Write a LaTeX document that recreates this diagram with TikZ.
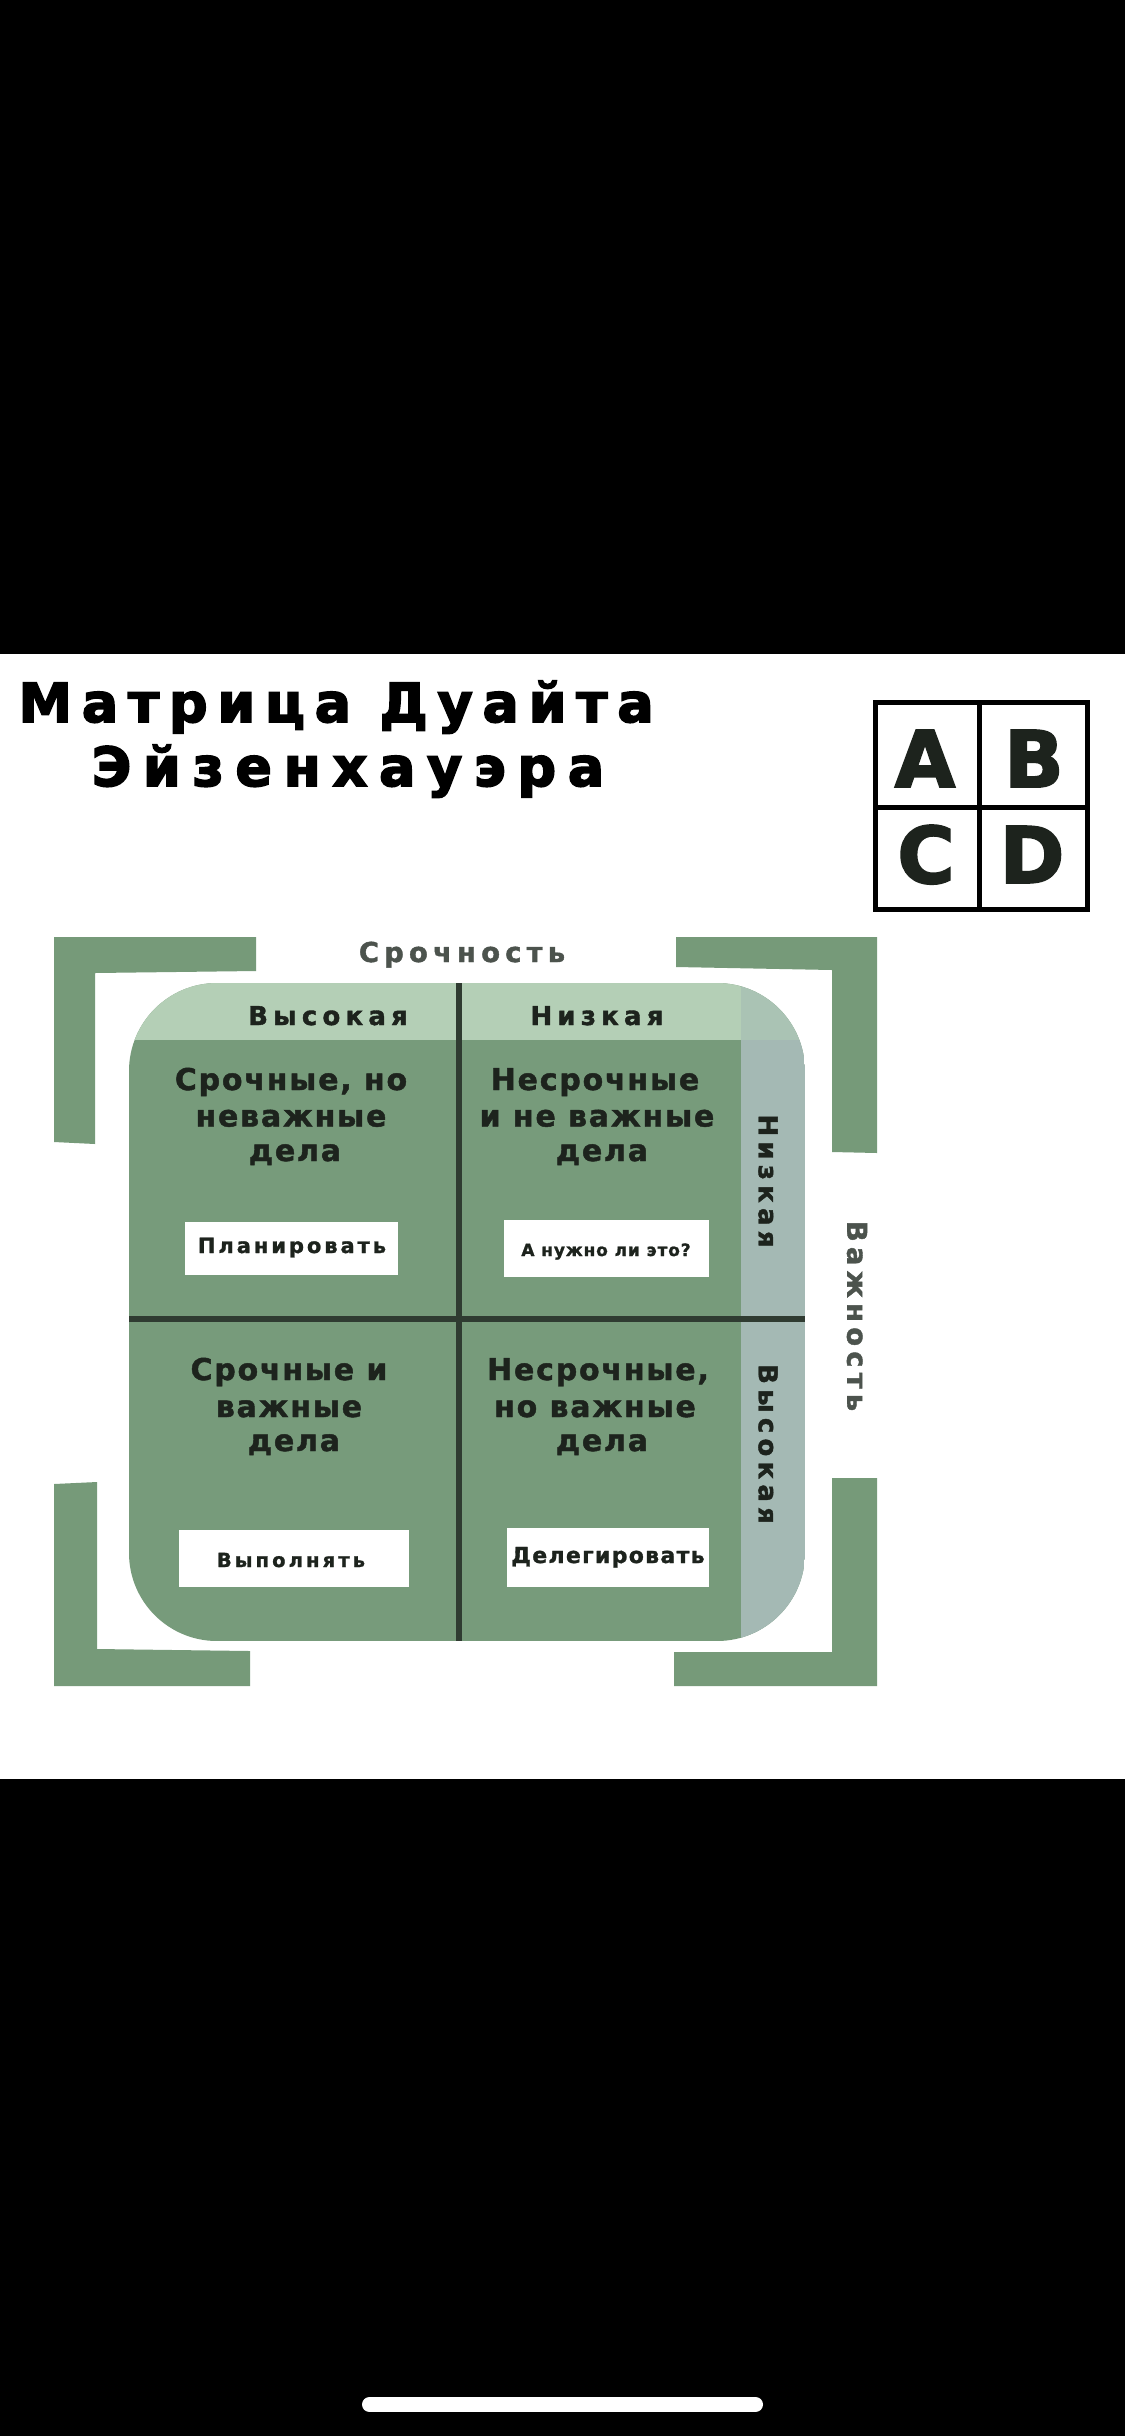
\documentclass[tikz,border=0pt]{standalone}
\usepackage{fontspec}
\setmainfont{DejaVu Sans}
\newcommand\lsp[2]{\addfontfeatures{LetterSpace=#1,FakeBold=#2}}
\definecolor{bodyg}{HTML}{779B7B}
\definecolor{headg}{HTML}{B4CFB6}
\definecolor{colg}{HTML}{A4B9B4}
\definecolor{colh}{HTML}{AAC3B4}
\definecolor{divc}{HTML}{2F3B31}
\definecolor{brk}{HTML}{769A79}
\definecolor{txtd}{HTML}{1D231D}
\definecolor{axg}{HTML}{4C534D}
\tikzset{
  ttl/.style={text=black, inner sep=0pt, anchor=base},
  abcd/.style={font={\fontsize{39}{44}\selectfont\bfseries\lsp{0}{2.5}}, text=txtd, inner sep=0pt, anchor=base},
  qt/.style={font={\fontsize{15}{18}\selectfont\bfseries\lsp{6}{1.5}}, text=txtd, inner sep=0pt, anchor=base},
  hd/.style={font={\fontsize{13}{16}\selectfont\bfseries\lsp{20}{1.5}}, text=txtd, inner sep=0pt, anchor=base},
  ax/.style={font={\fontsize{13.7}{16}\selectfont\bfseries\lsp{19}{1.5}}, text=axg, inner sep=0pt, anchor=base},
  wbox/.style={fill=white, draw=none, inner sep=0pt},
  btxt/.style={text=txtd, inner sep=0pt, anchor=base},
}
\begin{document}
\begin{tikzpicture}[x=0.5pt,y=-0.5pt]
\useasboundingbox (0,0) rectangle (1125,2436);
% screen background
\fill[black] (0,0) rectangle (1125,2436);
\fill[white] (0,654) rectangle (1125,1779);
\draw[white, line width=7.5pt, line cap=round] (369.5,2404.5) -- (755.5,2404.5);

% title
\node[ttl, font={\fontsize{27}{30}\selectfont\bfseries\lsp{18}{3}}] (t1) at (336,722) {Матрица Дуайта};
\node[ttl, font={\fontsize{27}{30}\selectfont\bfseries\lsp{21.5}{3}}] (t2) at (348,786) {Эйзенхауэра};

% ABCD grid
\draw[black, line width=2.5pt] (875.5,702.5) rectangle (1087.5,909.5);
\draw[black, line width=2.5pt] (979,702.5) -- (979,909.5);
\draw[black, line width=2.5pt] (875.5,807) -- (1087.5,807);
\node[abcd] (la) at (925,787) {A};
\node[abcd] (lb) at (1034,787) {B};
\node[abcd] (lc) at (926,883) {C};
\node[abcd] (ld) at (1032,883) {D};

% corner brackets
\fill[brk] (54,937) -- (256,937) -- (256,971) -- (95,973) -- (95,1144) -- (54,1142) -- cycle;
\fill[brk] (676,937) -- (877,937) -- (877,1153) -- (832,1152) -- (832,970) -- (676,967) -- cycle;
\fill[brk] (54,1484) -- (97,1482) -- (97,1649) -- (250,1651) -- (250,1686) -- (54,1686) -- cycle;
\fill[brk] (832,1478) -- (877,1478) -- (877,1686) -- (674,1686) -- (674,1652) -- (832,1652) -- cycle;

% matrix body
\begin{scope}
\clip[rounded corners=44pt] (129,983) rectangle (805,1641);
\fill[bodyg] (129,983) rectangle (805,1641);
\fill[headg] (129,983) rectangle (741,1040);
\fill[colg] (741,1040) rectangle (805,1641);
\fill[colh] (741,983) rectangle (805,1040);
\draw[divc, line width=3pt] (459,983) -- (459,1641);
\draw[divc, line width=3pt] (129,1319) -- (805,1319);
\end{scope}

% axis labels
\node[ax] (urg) at (462,962) {Срочность};
\node[ax, anchor=center, rotate=-90] (imp) at (857,1316) {Важность};

% header labels
\node[hd] (hhi) at (328,1025) {Высокая};
\node[hd] (hlo) at (597,1025) {Низкая};
\node[hd, anchor=center, rotate=-90] (vlo) at (768,1181) {Низкая};
\node[hd, anchor=center, rotate=-90] (vhi) at (768,1444) {Высокая};

% quadrant texts
\node[qt] (q1a) at (291,1090) {Срочные, но};
\node[qt] (q1b) at (291,1126.5) {неважные};
\node[qt] (q1c) at (295,1161) {дела};
\node[qt] (q2a) at (595,1090) {Несрочные};
\node[qt] (q2b) at (597,1126.5) {и не важные};
\node[qt] (q2c) at (602,1161) {дела};
\node[qt] (q3a) at (289,1380) {Срочные и};
\node[qt] (q3b) at (289,1417) {важные};
\node[qt] (q3c) at (294,1451) {дела};
\node[qt] (q4a) at (598,1380) {Несрочные,};
\node[qt] (q4b) at (595,1417) {но важные};
\node[qt] (q4c) at (602,1451) {дела};

% action boxes
\node[wbox, minimum width=106.5pt, minimum height=26.5pt] (b1) at (291.5,1248.5) {};
\node[wbox, minimum width=102.5pt, minimum height=28.5pt] (b2) at (606.5,1248.5) {};
\node[wbox, minimum width=115pt, minimum height=28.5pt] (b3) at (294,1558.5) {};
\node[wbox, minimum width=101pt, minimum height=29.5pt] (b4) at (608,1557.5) {};
\node[btxt, font={\fontsize{10.5}{12}\selectfont\bfseries\lsp{14}{1.2}}] (a1) at (292,1253) {Планировать};
\node[btxt, font={\fontsize{8.5}{10}\selectfont\bfseries\lsp{5}{1.2}}] (a2) at (606,1256) {А нужно ли это?};
\node[btxt, font={\fontsize{9.75}{11}\selectfont\bfseries\lsp{16}{1.2}}] (a3) at (291,1567) {Выполнять};
\node[btxt, font={\fontsize{11}{13}\selectfont\bfseries\lsp{6}{1.2}}] (a4) at (608,1563) {Делегировать};
\end{tikzpicture}
\end{document}
